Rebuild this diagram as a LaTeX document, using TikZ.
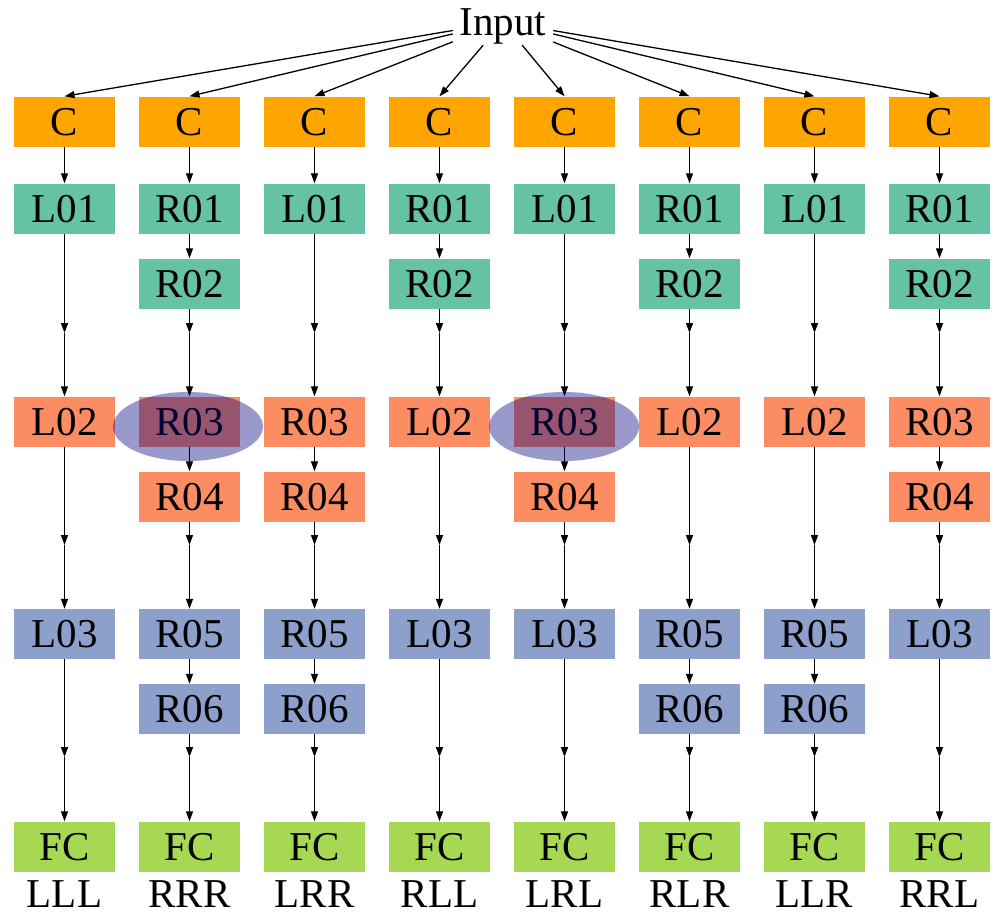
\documentclass[tikz,border=0pt]{standalone}
\usepackage{fontspec}
\setmainfont{Liberation Serif}
\usetikzlibrary{arrows.meta}
\definecolor{cOrange}{HTML}{FFA500}
\definecolor{cTeal}{HTML}{66C2A5}
\definecolor{cSalmon}{HTML}{FC8D62}
\definecolor{cBlue}{HTML}{8DA0CB}
\definecolor{cLime}{HTML}{A6D854}
\definecolor{cNavy}{RGB}{0,0,128}
\tikzset{
  blk/.style={rectangle, minimum width=101pt, minimum height=50pt, inner sep=0pt,
    text height=27pt, text depth=0pt, font=\fontsize{41pt}{41pt}\selectfont},
  cbox/.style={blk, fill=cOrange},
  gbox/.style={blk, fill=cTeal},
  obox/.style={blk, fill=cSalmon},
  blubox/.style={blk, fill=cBlue},
  fbox/.style={blk, fill=cLime},
  lab/.style={anchor=base, inner sep=0pt, font=\fontsize{41pt}{41pt}\selectfont},
  arr/.style={-{Triangle[length=10pt,width=7pt]}, line width=1.3pt},
  highlight/.style={fill=cNavy, opacity=0.4}
}
\begin{document}
\begin{tikzpicture}[x=1pt,y=-1pt]
\useasboundingbox (0,0) rectangle (996,916);

% source
\node[rectangle, minimum width=100pt, minimum height=46pt, inner sep=0pt,
      text height=27pt, text depth=0pt, font=\fontsize{41pt}{41pt}\selectfont] (in) at (503,22) {Input};

% column 1: LLL
\node[cbox] (c1) at (64.5,121.5) {C};
\node[gbox] (k1r1) at (64.5,208.5) {L01};
\node[obox] (k1r3) at (64.5,421.5) {L02};
\node[blubox] (k1r5) at (64.5,634) {L03};
\node[fbox] (f1) at (64.5,846.5) {FC};
\node[lab] (n1) at (64.5,907) {LLL};

% column 2: RRR
\node[cbox] (c2) at (189.5,121.5) {C};
\node[gbox] (k2r1) at (189.5,208.5) {R01};
\node[gbox] (k2r2) at (189.5,283.5) {R02};
\node[obox] (k2r3) at (189.5,421.5) {R03};
\node[obox] (k2r4) at (189.5,496.5) {R04};
\node[blubox] (k2r5) at (189.5,634) {R05};
\node[blubox] (k2r6) at (189.5,709) {R06};
\node[fbox] (f2) at (189.5,846.5) {FC};
\node[lab] (n2) at (189.5,907) {RRR};

% column 3: LRR
\node[cbox] (c3) at (314.5,121.5) {C};
\node[gbox] (k3r1) at (314.5,208.5) {L01};
\node[obox] (k3r3) at (314.5,421.5) {R03};
\node[obox] (k3r4) at (314.5,496.5) {R04};
\node[blubox] (k3r5) at (314.5,634) {R05};
\node[blubox] (k3r6) at (314.5,709) {R06};
\node[fbox] (f3) at (314.5,846.5) {FC};
\node[lab] (n3) at (314.5,907) {LRR};

% column 4: RLL
\node[cbox] (c4) at (439.5,121.5) {C};
\node[gbox] (k4r1) at (439.5,208.5) {R01};
\node[gbox] (k4r2) at (439.5,283.5) {R02};
\node[obox] (k4r3) at (439.5,421.5) {L02};
\node[blubox] (k4r5) at (439.5,634) {L03};
\node[fbox] (f4) at (439.5,846.5) {FC};
\node[lab] (n4) at (439.5,907) {RLL};

% column 5: LRL
\node[cbox] (c5) at (564.5,121.5) {C};
\node[gbox] (k5r1) at (564.5,208.5) {L01};
\node[obox] (k5r3) at (564.5,421.5) {R03};
\node[obox] (k5r4) at (564.5,496.5) {R04};
\node[blubox] (k5r5) at (564.5,634) {L03};
\node[fbox] (f5) at (564.5,846.5) {FC};
\node[lab] (n5) at (564.5,907) {LRL};

% column 6: RLR
\node[cbox] (c6) at (689.5,121.5) {C};
\node[gbox] (k6r1) at (689.5,208.5) {R01};
\node[gbox] (k6r2) at (689.5,283.5) {R02};
\node[obox] (k6r3) at (689.5,421.5) {L02};
\node[blubox] (k6r5) at (689.5,634) {R05};
\node[blubox] (k6r6) at (689.5,709) {R06};
\node[fbox] (f6) at (689.5,846.5) {FC};
\node[lab] (n6) at (689.5,907) {RLR};

% column 7: LLR
\node[cbox] (c7) at (814.5,121.5) {C};
\node[gbox] (k7r1) at (814.5,208.5) {L01};
\node[obox] (k7r3) at (814.5,421.5) {L02};
\node[blubox] (k7r5) at (814.5,634) {R05};
\node[blubox] (k7r6) at (814.5,709) {R06};
\node[fbox] (f7) at (814.5,846.5) {FC};
\node[lab] (n7) at (814.5,907) {LLR};

% column 8: RRL
\node[cbox] (c8) at (939.5,121.5) {C};
\node[gbox] (k8r1) at (939.5,208.5) {R01};
\node[gbox] (k8r2) at (939.5,283.5) {R02};
\node[obox] (k8r3) at (939.5,421.5) {R03};
\node[obox] (k8r4) at (939.5,496.5) {R04};
\node[blubox] (k8r5) at (939.5,634) {L03};
\node[fbox] (f8) at (939.5,846.5) {FC};
\node[lab] (n8) at (939.5,907) {RRL};

% pass-through points of the long edges
\foreach \k/\x in {1/64.5,2/189.5,3/314.5,4/439.5,5/564.5,6/689.5,7/814.5,8/939.5}{
  \coordinate (v1-\k) at (\x,333);
  \coordinate (v2-\k) at (\x,545);
  \coordinate (v3-\k) at (\x,757);
}

% fan-out from the source
\foreach \k in {1,...,8}{
  \draw[arr] (in) -- (c\k.north);
  \draw[arr] (c\k) -- (k\k r1);
}

% first stage to second stage
\foreach \k in {1,3,5,7}{
  \draw[arr] (k\k r1) -- (v1-\k);
}
\foreach \k in {2,4,6,8}{
  \draw[arr] (k\k r1) -- (k\k r2);
  \draw[arr] (k\k r2) -- (v1-\k);
}
\foreach \k in {1,...,8}{
  \draw[arr] (v1-\k) -- (k\k r3.north);
}

% second stage to third stage
\foreach \k in {1,4,6,7}{
  \draw[arr] (k\k r3) -- (v2-\k);
}
\foreach \k in {2,3,5,8}{
  \draw[arr] (k\k r3) -- (k\k r4);
  \draw[arr] (k\k r4) -- (v2-\k);
}
\foreach \k in {1,...,8}{
  \draw[arr] (v2-\k) -- (k\k r5.north);
}

% third stage to classifier
\foreach \k in {1,4,5,8}{
  \draw[arr] (k\k r5) -- (v3-\k);
}
\foreach \k in {2,3,6,7}{
  \draw[arr] (k\k r5) -- (k\k r6);
  \draw[arr] (k\k r6) -- (v3-\k);
}
\foreach \k in {1,...,8}{
  \draw[arr] (v3-\k) -- (f\k.north);
}

% highlighted blocks
\fill[highlight] (188,426.5) ellipse [x radius=75pt, y radius=34.5pt];
\fill[highlight] (564,426.5) ellipse [x radius=75pt, y radius=34.5pt];
\end{tikzpicture}
\end{document}
